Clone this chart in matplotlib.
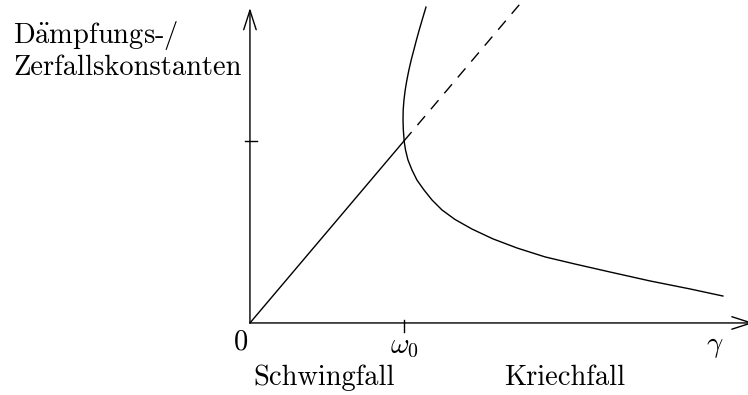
import matplotlib
matplotlib.use("Agg")
import matplotlib.pyplot as plt

plt.rcParams["mathtext.fontset"] = "cm"
plt.rcParams["font.family"] = "cmr10"
plt.rcParams["axes.formatter.use_mathtext"] = True

# Values in units of the natural frequency omega_0
omega0 = 1.0
diag_solid_gamma = [0.0, 1.0]
diag_dashed_gamma = [1.0, 1.75]

# Decay constants in the overdamped regime (upper branch -> lower branch)
branch_gamma = [1.143, 1.118, 1.099, 1.081, 1.064, 1.047, 1.032, 1.019, 1.008,
                1.000, 0.995, 0.994, 0.996, 1.002,
                1.010, 1.026, 1.052, 1.084, 1.130, 1.182, 1.247, 1.331, 1.442,
                1.578, 1.734, 1.916, 2.110, 2.338, 2.597, 2.857, 3.071]
branch_rate = [1.736, 1.665, 1.610, 1.555, 1.500, 1.445, 1.390, 1.335, 1.280,
               1.225, 1.170, 1.115, 1.060, 0.995,
               0.951, 0.896, 0.841, 0.786, 0.731, 0.676, 0.621, 0.569, 0.516,
               0.462, 0.412, 0.363, 0.324, 0.280, 0.231, 0.187, 0.148]

y_tick_value = 1.0
x_tick_value = omega0

FS = 20.5

fig = plt.figure(figsize=(7.48, 3.95), dpi=100)
ax = fig.add_axes([0, 0, 1, 1])
ax.set_xlim(-1.623, 3.234)
ax.set_ylim(-0.396, 1.775)
ax.axis("off")

# Coordinate axes with open arrow heads
arrow = dict(arrowstyle="->,head_length=1.4,head_width=0.45", lw=1.0,
             color="black", shrinkA=0, shrinkB=0)
ax.annotate("", xy=(0, 1.731), xytext=(0, 0), arrowprops=arrow,
            annotation_clip=False)
ax.annotate("", xy=(3.27, 0), xytext=(0, 0), arrowprops=arrow,
            annotation_clip=False)

# Tick marks
ax.plot([x_tick_value, x_tick_value], [0.016, -0.049], color="black", lw=1.0)
ax.plot([-0.032, 0.043], [y_tick_value, y_tick_value], color="black", lw=1.0)

# Damping constant gamma (underdamped), continued dashed
ax.plot(diag_solid_gamma, diag_solid_gamma, color="black", lw=1.0)
ax.plot(diag_dashed_gamma, diag_dashed_gamma, color="black", lw=1.0,
        dashes=(8.5, 6.5))

# Decay constants in the overdamped case
ax.plot(branch_gamma, branch_rate, color="black", lw=1.0,
        solid_joinstyle="round")

# Labels
ax.text(-0.058, -0.104, "0", ha="center", va="center", fontsize=FS)
ax.text(omega0, -0.132, r"$\omega_0$", ha="center", va="center", fontsize=FS)
ax.text(3.02, -0.132, r"$\gamma$", ha="center", va="center", fontsize=FS)
ax.text(0.48, -0.302, "Schwingfall", ha="center", va="center", fontsize=FS)
ax.text(2.045, -0.302, "Kriechfall", ha="center", va="center", fontsize=FS)
ax.text(-1.539, 1.538, r"D$\mathrm{\ddot{a}}$mpfungs-/", ha="left",
        va="baseline", fontsize=FS)
ax.text(-1.539, 1.363, "Zerfallskonstanten", ha="left", va="baseline",
        fontsize=FS)

fig.savefig("out.png", dpi=100)
